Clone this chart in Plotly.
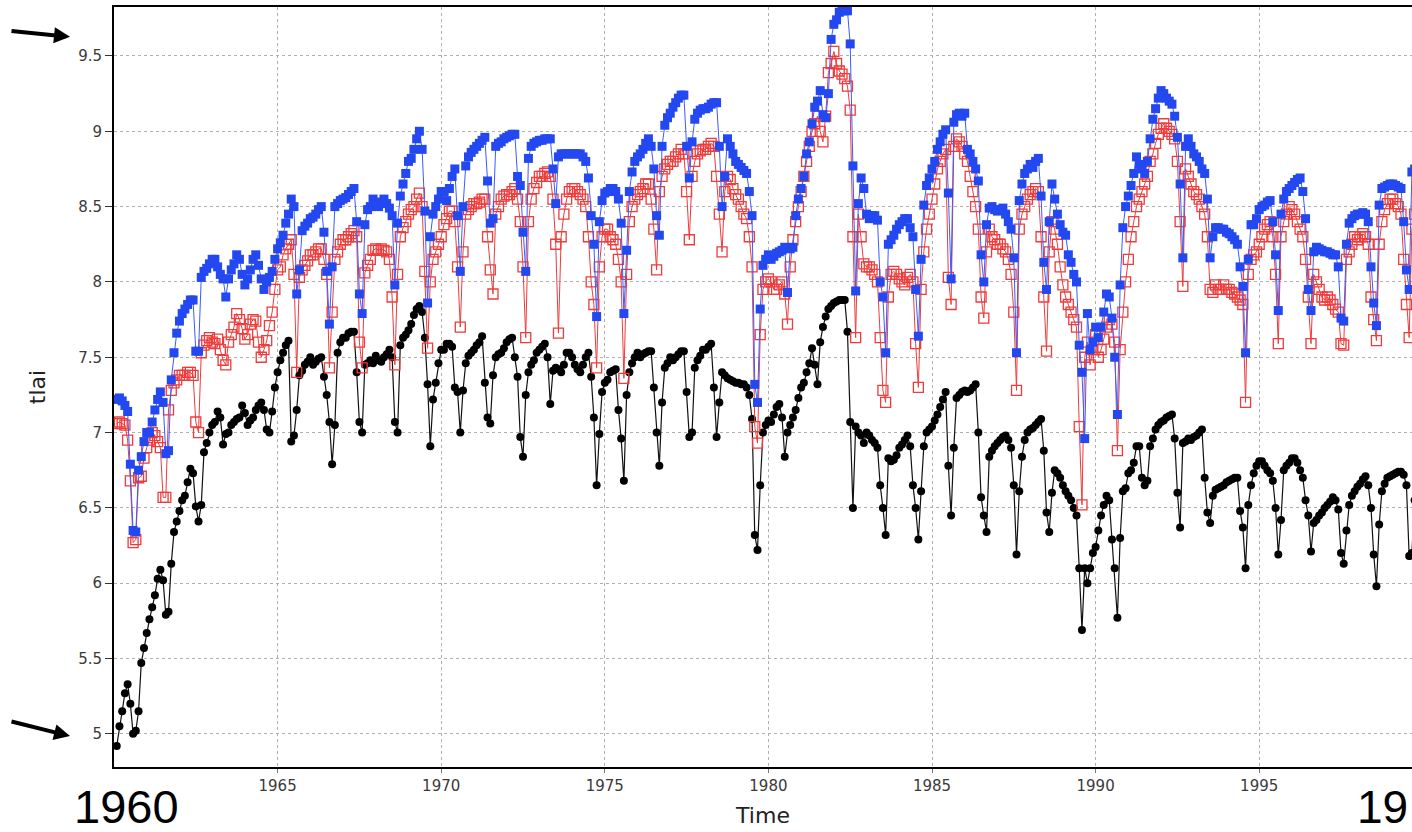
import plotly.graph_objects as go

start_year = 1960
# monthly tlai values, Jan 1960 .. Dec 1999 (12 values per line = one year)
black_tlai = [
    4.92, 5.05, 5.15, 5.27, 5.33, 5.20, 5.00, 5.02, 5.15, 5.47, 5.57, 5.67,
    5.76, 5.84, 5.92, 6.03, 6.09, 6.02, 5.79, 5.81, 6.13, 6.34, 6.41, 6.48,
    6.55, 6.58, 6.67, 6.76, 6.73, 6.51, 6.41, 6.52, 6.87, 6.93, 7.00, 7.05,
    7.07, 7.14, 7.10, 6.92, 6.99, 7.00, 7.05, 7.07, 7.09, 7.10, 7.18, 7.13,
    7.05, 7.08, 7.10, 7.15, 7.18, 7.20, 7.15, 7.02, 7.00, 7.14, 7.30, 7.40,
    7.48, 7.53, 7.58, 7.61, 6.94, 6.98, 7.15, 7.38, 7.41, 7.45, 7.47, 7.50,
    7.45, 7.47, 7.49, 7.50, 7.37, 7.25, 7.07, 6.79, 7.05, 7.53, 7.60, 7.63,
    7.63, 7.66, 7.67, 7.67, 7.40, 7.07, 7.00, 7.45, 7.46, 7.48, 7.46, 7.51,
    7.48, 7.47, 7.50, 7.52, 7.55, 7.50, 7.07, 7.00, 7.58, 7.63, 7.65, 7.68,
    7.72, 7.78, 7.82, 7.84, 7.80, 7.63, 7.32, 6.91, 7.22, 7.33, 7.46, 7.55,
    7.55, 7.59, 7.59, 7.57, 7.30, 7.27, 7.00, 7.28, 7.46, 7.51, 7.53, 7.55,
    7.58, 7.60, 7.64, 7.33, 7.10, 7.06, 7.38, 7.50, 7.52, 7.53, 7.56, 7.60,
    7.62, 7.63, 7.50, 7.37, 6.97, 6.84, 7.25, 7.40, 7.45, 7.48, 7.53, 7.55,
    7.57, 7.59, 7.50, 7.19, 7.41, 7.43, 7.42, 7.40, 7.45, 7.53, 7.53, 7.50,
    7.45, 7.42, 7.40, 7.45, 7.50, 7.53, 7.37, 7.10, 6.65, 6.99, 7.27, 7.33,
    7.35, 7.40, 7.41, 7.42, 7.15, 6.96, 6.68, 7.25, 7.40, 7.46, 7.50, 7.53,
    7.50, 7.52, 7.53, 7.54, 7.54, 7.30, 7.00, 6.78, 7.20, 7.43, 7.46, 7.50,
    7.48, 7.50, 7.52, 7.54, 7.54, 7.27, 6.97, 7.00, 7.43, 7.48, 7.51, 7.55,
    7.55, 7.57, 7.59, 7.30, 6.97, 7.20, 7.40, 7.38, 7.36, 7.35, 7.34, 7.33,
    7.33, 7.32, 7.32, 7.30, 7.25, 7.09, 6.32, 6.22, 6.65, 7.00, 7.05, 7.08,
    7.07, 7.12, 7.17, 7.19, 7.10, 6.84, 7.00, 7.05, 7.10, 7.15, 7.23, 7.30,
    7.33, 7.40, 7.46, 7.56, 7.45, 7.32, 7.60, 7.70, 7.77, 7.82, 7.84, 7.86,
    7.87, 7.88, 7.88, 7.88, 7.67, 7.07, 6.50, 7.04, 7.00, 6.98, 6.93, 7.00,
    6.98, 6.95, 6.93, 6.90, 6.65, 6.50, 6.32, 6.83, 6.81, 6.82, 6.85, 6.90,
    6.92, 6.95, 6.98, 6.91, 6.65, 6.50, 6.29, 6.61, 6.91, 7.00, 7.02, 7.04,
    7.08, 7.12, 7.17, 7.22, 7.27, 6.78, 6.45, 6.90, 7.23, 7.25, 7.27, 7.28,
    7.27, 7.28, 7.30, 7.32, 7.00, 6.57, 6.45, 6.34, 6.84, 6.88, 6.91, 6.93,
    6.95, 6.97, 6.98, 6.95, 6.90, 6.65, 6.19, 6.61, 6.84, 6.95, 7.00, 7.02,
    7.03, 7.05, 7.07, 7.09, 6.88, 6.47, 6.34, 6.60, 6.75, 6.73, 6.70, 6.65,
    6.61, 6.58, 6.55, 6.50, 6.45, 6.10, 5.69, 6.10, 6.00, 6.10, 6.20, 6.24,
    6.35, 6.45, 6.52, 6.58, 6.55, 6.29, 6.10, 5.77, 6.30, 6.61, 6.63, 6.73,
    6.75, 6.80, 6.91, 6.91, 6.70, 6.65, 6.68, 6.91, 6.96, 7.02, 7.05, 7.07,
    7.08, 7.10, 7.11, 7.12, 6.96, 6.60, 6.37, 6.93, 6.94, 6.96, 6.95, 6.97,
    6.98, 7.00, 7.02, 6.70, 6.47, 6.40, 6.58, 6.62, 6.63, 6.64, 6.65, 6.67,
    6.68, 6.69, 6.70, 6.70, 6.48, 6.37, 6.10, 6.52, 6.65, 6.73, 6.78, 6.81,
    6.81, 6.78, 6.75, 6.73, 6.68, 6.50, 6.19, 6.42, 6.75, 6.78, 6.80, 6.83,
    6.83, 6.80, 6.75, 6.70, 6.55, 6.45, 6.21, 6.40, 6.42, 6.45, 6.47, 6.50,
    6.52, 6.54, 6.57, 6.55, 6.49, 6.20, 6.13, 6.35, 6.52, 6.58, 6.61, 6.64,
    6.66, 6.69, 6.71, 6.65, 6.50, 6.19, 5.98, 6.39, 6.61, 6.66, 6.70, 6.71,
    6.72, 6.73, 6.74, 6.74, 6.72, 6.65, 6.18, 6.20, 6.55, 6.62, 6.66, 6.68,
]
red_tlai = [
    7.06, 7.07, 7.06, 7.05, 6.95, 6.68, 6.27, 6.29, 6.70, 6.71, 6.83, 6.90,
    6.95, 7.00, 6.98, 6.94, 6.90, 6.57, 6.57, 7.15, 7.28, 7.33, 7.35, 7.38,
    7.38, 7.38, 7.40, 7.40, 7.38, 7.07, 7.00, 7.53, 7.58, 7.61, 7.63, 7.60,
    7.59, 7.62, 7.55, 7.48, 7.45, 7.60, 7.65, 7.70, 7.79, 7.75, 7.69, 7.62,
    7.65, 7.72, 7.75, 7.74, 7.60, 7.50, 7.55, 7.61, 7.71, 7.80, 7.95, 8.08,
    8.10, 8.18, 8.22, 8.25, 8.28, 8.05, 7.40, 8.03, 8.08, 8.11, 8.14, 8.18,
    8.18, 8.20, 8.22, 8.22, 8.15, 8.05, 7.43, 7.80, 8.15, 8.20, 8.25, 8.28,
    8.28, 8.30, 8.32, 8.34, 8.30, 7.60, 7.43, 8.06, 8.11, 8.15, 8.21, 8.22,
    8.21, 8.22, 8.21, 8.20, 8.15, 7.90, 7.45, 8.05, 8.30, 8.36, 8.40, 8.45,
    8.48, 8.50, 8.55, 8.59, 8.50, 8.07, 7.56, 8.00, 8.15, 8.20, 8.25, 8.30,
    8.38, 8.42, 8.47, 8.47, 8.40, 8.10, 7.70, 8.20, 8.45, 8.48, 8.50, 8.52,
    8.52, 8.53, 8.55, 8.55, 8.30, 8.08, 7.92, 8.45, 8.50, 8.55, 8.57, 8.58,
    8.58, 8.60, 8.62, 8.55, 8.40, 8.10, 7.63, 8.40, 8.55, 8.62, 8.66, 8.70,
    8.70, 8.72, 8.73, 8.70, 8.55, 8.25, 7.66, 8.30, 8.45, 8.55, 8.60, 8.62,
    8.62, 8.60, 8.58, 8.55, 8.50, 8.30, 8.00, 7.85, 7.43, 8.10, 8.30, 8.35,
    8.35, 8.30, 8.28, 8.25, 8.15, 8.00, 7.36, 8.05, 8.40, 8.50, 8.55, 8.58,
    8.60, 8.62, 8.65, 8.65, 8.55, 8.35, 8.08, 8.60, 8.70, 8.75, 8.78, 8.80,
    8.80, 8.83, 8.85, 8.88, 8.85, 8.60, 8.28, 8.70, 8.80, 8.85, 8.87, 8.88,
    8.88, 8.90, 8.92, 8.90, 8.70, 8.45, 8.20, 8.60, 8.70, 8.68, 8.62, 8.58,
    8.55, 8.50, 8.45, 8.42, 8.30, 8.10, 7.04, 6.93, 7.65, 7.95, 8.00, 8.02,
    8.00, 7.95, 7.95, 7.98, 8.00, 7.92, 7.72, 8.10, 8.28, 8.40, 8.50, 8.60,
    8.70, 8.80, 8.90, 9.00, 9.05, 9.10, 9.00, 8.93, 9.10, 9.39, 9.45, 9.53,
    9.45, 9.40, 9.38, 9.35, 9.30, 9.14, 8.30, 7.63, 8.45, 8.30, 8.12, 8.10,
    8.10, 8.08, 8.05, 8.00, 7.63, 7.28, 7.20, 7.90, 8.05, 8.07, 8.05, 8.02,
    8.00, 7.98, 8.03, 8.05, 8.00, 7.59, 7.30, 7.95, 8.20, 8.35, 8.45, 8.55,
    8.65, 8.75, 8.80, 8.85, 8.88, 8.03, 7.85, 8.90, 8.95, 8.93, 8.90, 8.85,
    8.80, 8.70, 8.60, 8.50, 8.35, 7.90, 7.76, 8.20, 8.35, 8.30, 8.28, 8.25,
    8.25, 8.22, 8.20, 8.15, 8.05, 7.80, 7.28, 8.35, 8.45, 8.50, 8.55, 8.58,
    8.60, 8.62, 8.60, 8.30, 7.90, 7.54, 8.20, 8.40, 8.35, 8.25, 8.10, 7.98,
    7.90, 7.85, 7.80, 7.75, 7.70, 7.04, 6.52, 7.50, 7.60, 7.45, 7.55, 7.65,
    7.50, 7.55, 7.62, 7.70, 7.75, 7.72, 7.60, 6.88, 7.55, 7.80, 8.00, 8.15,
    8.30, 8.40, 8.50, 8.55, 8.60, 8.65, 8.70, 8.80, 8.85, 8.92, 8.98, 9.02,
    9.05, 9.02, 9.00, 8.98, 8.95, 8.80, 8.40, 7.97, 8.75, 8.70, 8.65, 8.60,
    8.58, 8.55, 8.50, 8.45, 8.30, 7.95, 7.93, 7.98, 7.95, 7.95, 7.98, 7.95,
    7.95, 7.93, 7.92, 7.90, 7.88, 7.85, 7.20, 8.05, 8.15, 8.18, 8.20, 8.25,
    8.30, 8.35, 8.38, 8.40, 8.30, 8.05, 7.59, 8.30, 8.40, 8.45, 8.50, 8.48,
    8.45, 8.40, 8.35, 8.30, 8.15, 7.90, 7.59, 8.05, 8.00, 7.95, 7.90, 7.88,
    7.90, 7.88, 7.85, 7.82, 7.80, 7.59, 7.58, 8.15, 8.20, 8.25, 8.30, 8.28,
    8.30, 8.32, 8.30, 8.25, 7.90, 7.75, 7.61, 8.25, 8.40, 8.48, 8.52, 8.55,
    8.55, 8.52, 8.50, 8.45, 8.15, 7.85, 7.63, 8.35, 8.45, 8.50, 8.52, 8.55,
]
blue_tlai = [
    7.22, 7.23, 7.21, 7.18, 7.14, 6.79, 6.35, 6.34, 6.75, 6.84, 6.94, 7.00,
    7.00, 7.07, 7.15, 7.22, 7.27, 7.20, 6.86, 6.88, 7.35, 7.53, 7.66, 7.74,
    7.79, 7.82, 7.85, 7.88, 7.88, 7.54, 7.54, 8.03, 8.07, 8.09, 8.12, 8.15,
    8.15, 8.10, 8.05, 8.02, 7.90, 8.02, 8.08, 8.12, 8.18, 8.15, 8.05, 7.98,
    8.02, 8.08, 8.15, 8.18, 8.11, 8.02, 7.95, 8.00, 8.03, 8.07, 8.15, 8.22,
    8.26, 8.31, 8.39, 8.45, 8.55, 8.50, 7.92, 8.08, 8.34, 8.37, 8.39, 8.42,
    8.43, 8.45, 8.48, 8.50, 8.33, 8.07, 7.72, 8.10, 8.50, 8.52, 8.54, 8.55,
    8.56, 8.58, 8.60, 8.62, 8.40, 7.92, 7.79, 8.38, 8.48, 8.50, 8.55, 8.52,
    8.50, 8.53, 8.55, 8.52, 8.49, 8.44, 7.98, 8.39, 8.57, 8.65, 8.72, 8.80,
    8.82, 8.88, 8.95, 9.00, 8.88, 8.47, 7.86, 8.30, 8.45, 8.50, 8.55, 8.60,
    8.60, 8.54, 8.62, 8.70, 8.75, 8.44, 8.07, 8.50, 8.77, 8.83, 8.86, 8.88,
    8.90, 8.92, 8.94, 8.96, 8.67, 8.39, 8.42, 8.90, 8.92, 8.93, 8.95, 8.96,
    8.97, 8.98, 8.98, 8.70, 8.64, 8.33, 8.07, 8.82, 8.90, 8.92, 8.93, 8.94,
    8.94, 8.95, 8.95, 8.95, 8.75, 8.52, 8.83, 8.85, 8.85, 8.85, 8.85, 8.85,
    8.85, 8.85, 8.85, 8.83, 8.80, 8.69, 8.44, 8.25, 7.77, 8.40, 8.54, 8.59,
    8.60, 8.62, 8.62, 8.60, 8.55, 8.39, 7.79, 8.21, 8.60, 8.73, 8.80, 8.83,
    8.85, 8.88, 8.92, 8.95, 8.90, 8.75, 8.44, 8.31, 8.90, 9.04, 9.09, 9.12,
    9.16, 9.19, 9.22, 9.24, 9.24, 8.90, 8.69, 8.93, 9.08, 9.12, 9.14, 9.15,
    9.15, 9.16, 9.18, 9.19, 9.19, 8.90, 8.50, 8.70, 8.95, 8.90, 8.85, 8.80,
    8.78, 8.76, 8.74, 8.72, 8.60, 8.44, 7.32, 7.20, 7.82, 8.11, 8.15, 8.18,
    8.15, 8.17, 8.19, 8.20, 8.21, 8.23, 7.93, 8.22, 8.23, 8.44, 8.55, 8.62,
    8.70, 8.85, 8.93, 9.05, 9.16, 9.20, 9.27, 9.11, 9.09, 9.25, 9.61, 9.71,
    9.74, 9.79, 9.80, 9.80, 9.80, 9.58, 8.77, 7.94, 8.52, 8.69, 8.62, 8.45,
    8.42, 8.44, 8.44, 8.41, 8.00, 7.90, 7.53, 8.25, 8.28, 8.31, 8.35, 8.38,
    8.40, 8.42, 8.42, 8.36, 8.30, 7.95, 7.64, 8.15, 8.51, 8.64, 8.69, 8.75,
    8.80, 8.88, 8.93, 8.98, 9.01, 8.59, 8.02, 9.06, 9.11, 9.12, 9.10, 9.12,
    8.88, 8.85, 8.80, 8.75, 8.67, 8.18, 8.00, 8.38, 8.49, 8.50, 8.48, 8.47,
    8.48, 8.49, 8.45, 8.40, 8.35, 8.16, 7.53, 8.54, 8.65, 8.72, 8.75, 8.78,
    8.76, 8.80, 8.82, 8.57, 8.13, 7.95, 8.40, 8.65, 8.55, 8.45, 8.38, 8.33,
    8.31, 8.18, 8.13, 8.05, 8.00, 7.58, 7.40, 6.96, 7.79, 7.55, 7.60, 7.70,
    7.63, 7.70, 7.80, 7.92, 7.90, 7.76, 7.50, 7.12, 7.98, 8.36, 8.50, 8.57,
    8.64, 8.72, 8.83, 8.78, 8.75, 8.72, 8.80, 8.95, 9.08, 9.15, 9.22, 9.27,
    9.25, 9.22, 9.20, 9.18, 9.10, 8.96, 8.65, 8.16, 8.90, 8.95, 8.90, 8.85,
    8.83, 8.80, 8.75, 8.72, 8.55, 8.16, 8.30, 8.36, 8.36, 8.35, 8.35, 8.33,
    8.32, 8.30, 8.28, 8.25, 8.10, 7.97, 7.53, 8.15, 8.38, 8.38, 8.42, 8.48,
    8.50, 8.51, 8.53, 8.54, 8.40, 8.18, 7.81, 8.45, 8.55, 8.60, 8.62, 8.64,
    8.66, 8.68, 8.69, 8.60, 8.42, 7.95, 7.81, 8.20, 8.23, 8.22, 8.21, 8.20,
    8.20, 8.19, 8.18, 8.18, 8.10, 7.76, 7.74, 8.25, 8.39, 8.42, 8.44, 8.45,
    8.45, 8.46, 8.45, 8.40, 8.10, 7.86, 7.71, 8.51, 8.62, 8.63, 8.64, 8.65,
    8.65, 8.64, 8.63, 8.62, 8.40, 8.08, 7.95, 8.73, 8.75, 8.75, 8.75, 8.75,
]
x_ticks = [1965, 1970, 1975, 1980, 1985, 1990, 1995]
y_ticks = [5, 5.5, 6, 6.5, 7, 7.5, 8, 8.5, 9, 9.5]

n = len(black_tlai)
time = [start_year + (i + 1) / 12 for i in range(n)]

fig = go.Figure()
fig.add_trace(go.Scatter(
    x=time, y=black_tlai, mode="lines+markers", name="black",
    line=dict(color="#111111", width=1.2),
    marker=dict(symbol="circle", size=8, color="#000000"),
))
fig.add_trace(go.Scatter(
    x=time, y=red_tlai, mode="lines+markers", name="red",
    line=dict(color="#ee3b3b", width=1),
    marker=dict(symbol="square-open", size=10, color="#ee3b3b", line=dict(width=1.3)),
))
fig.add_trace(go.Scatter(
    x=time, y=blue_tlai, mode="lines+markers", name="blue",
    line=dict(color="#3a5cff", width=1),
    marker=dict(symbol="square", size=9, color="#2448f0"),
))

tick_font = dict(family="DejaVu Sans", size=15, color="#3a3a3a")
fig.update_layout(
    width=1412, height=832,
    margin=dict(l=114, r=0, t=7, b=65),
    paper_bgcolor="white", plot_bgcolor="white",
    showlegend=False,
    xaxis=dict(
        range=[1960, 1999.67], tickvals=x_ticks, ticks="outside", ticklen=4,
        tickcolor="#777", tickfont=tick_font,
        showgrid=True, gridcolor="#b0b0b0", griddash="dot", gridwidth=1,
        showline=True, linecolor="black", linewidth=2, mirror=True,
        zeroline=False,
        title=dict(text="Time", font=dict(family="DejaVu Sans", size=22, color="#222"), standoff=14),
    ),
    yaxis=dict(
        range=[4.78, 9.825], tickvals=y_ticks, ticks="outside", ticklen=7,
        tickcolor="#333", tickfont=tick_font,
        showgrid=True, gridcolor="#b0b0b0", griddash="dot", gridwidth=1,
        showline=True, linecolor="black", linewidth=2,
        zeroline=False,
        title=dict(text="tlai", font=dict(family="DejaVu Sans", size=22, color="#222"), standoff=26),
    ),
)

# large year labels below the axis
fig.add_annotation(text="1960", xref="paper", yref="paper", x=(126 - 114) / 1298, y=-0.0526,
                   xanchor="center", yanchor="middle", showarrow=False,
                   font=dict(family="Liberation Sans, Arial", size=47, color="black"))
fig.add_annotation(text="19", xref="paper", yref="paper", x=(1410 - 114) / 1298, y=-0.0526,
                   xanchor="right", yanchor="middle", showarrow=False,
                   font=dict(family="Liberation Sans, Arial", size=46, color="black"))

# arrows pointing at the axis limits
for yv, ay in [(9.627, -6), (4.985, -15)]:
    fig.add_annotation(x=(70 - 114) / 1298, xref="paper", y=yv, yref="y", text="",
                       showarrow=True, arrowhead=2, arrowsize=0.8, arrowwidth=4,
                       arrowcolor="black", ax=-60, ay=ay)

fig.write_html("out.html")
